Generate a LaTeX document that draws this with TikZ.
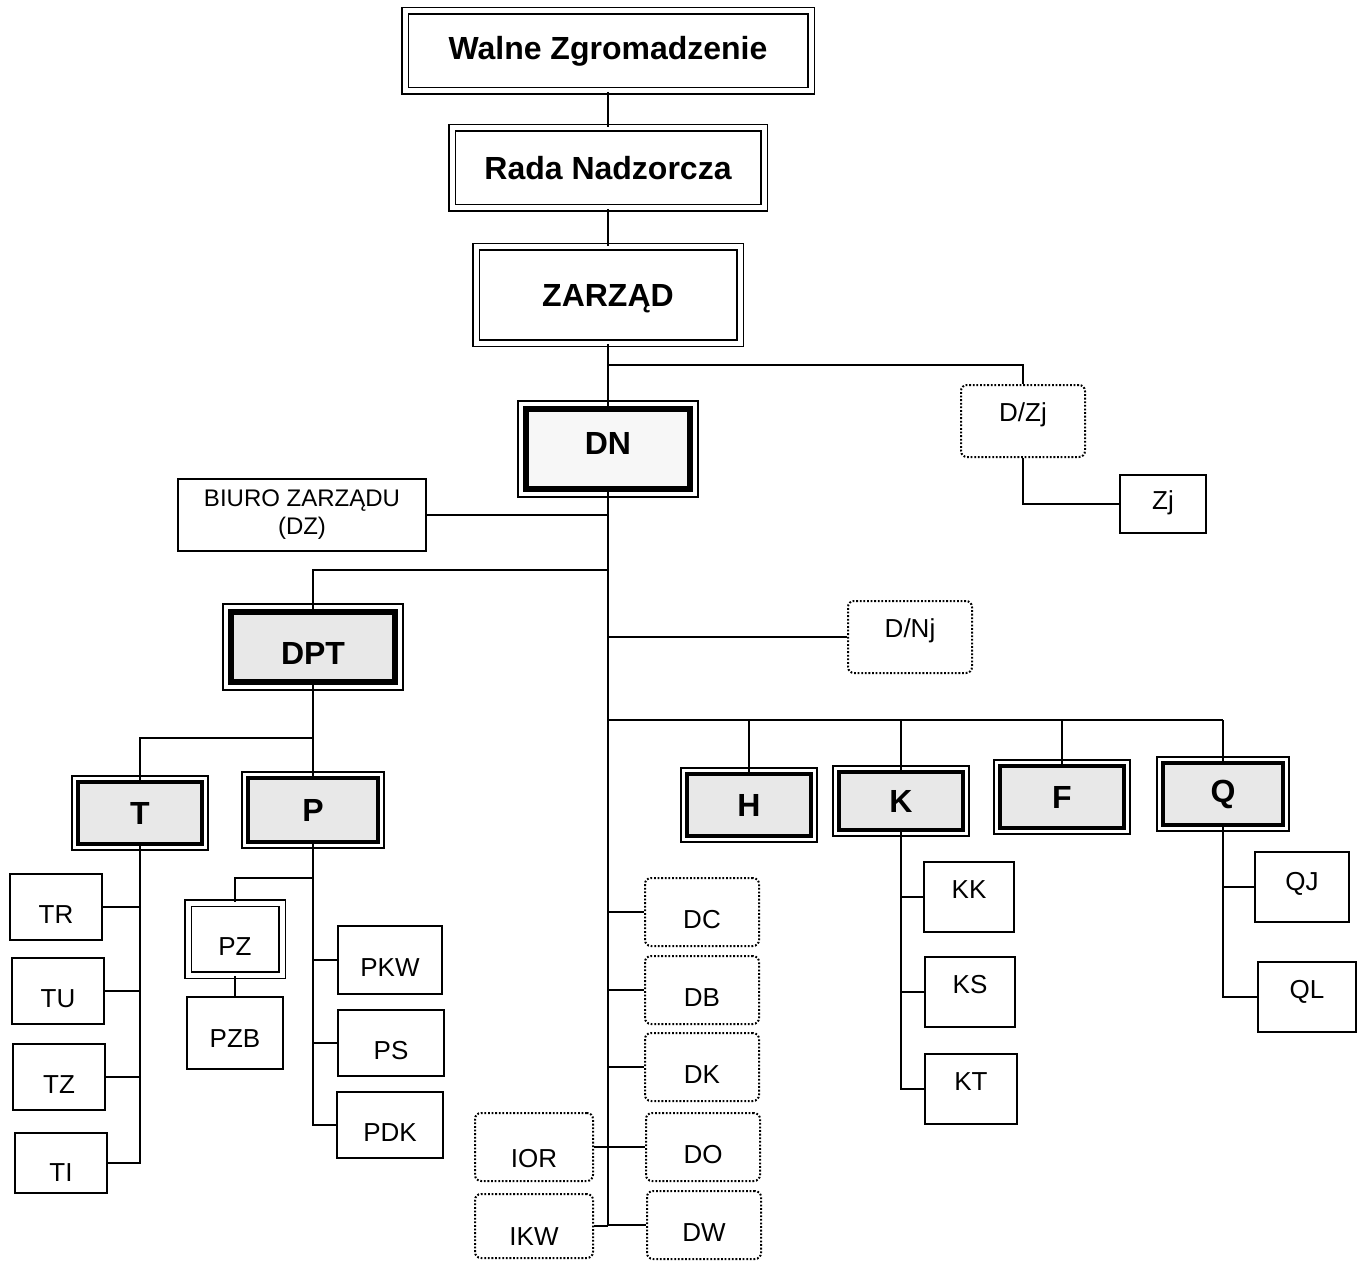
\documentclass[tikz,border=0pt]{standalone}
\usepackage{fontspec}
\setmainfont{Liberation Sans}
\usepackage{tikz}

\tikzset{
  board/.style={draw, double, double distance=2.5pt, line width=0.9pt, inner sep=0pt,
    font=\fontsize{16}{19}\bfseries\selectfont},
  director/.style={draw, line width=2.8pt, inner sep=0pt, fill=gray!18,
    font=\fontsize{16}{19}\bfseries\selectfont},
  division/.style={draw, line width=1.8pt, inner sep=0pt, fill=gray!18,
    minimum width=62pt, minimum height=31pt, font=\fontsize{16}{19}\bfseries\selectfont},
  unit/.style={draw, line width=1pt, inner sep=0pt, font=\fontsize{13}{15}\selectfont},
  dotunit/.style={draw, line width=1pt, dash pattern=on 0.9pt off 0.9pt, rounded corners=3pt,
    inner sep=0pt, minimum width=57pt, minimum height=34pt, font=\fontsize{13}{15}\selectfont},
  lowtext/.style={text height=16pt, text depth=0pt},
  hightext/.style={text height=9.5pt, text depth=8pt},
  frame/.style={line width=0.8pt}
}

\begin{document}
\begin{tikzpicture}[x=0.5pt, y=-0.5pt, line width=1pt]
\useasboundingbox (0,0) rectangle (1362,1263);

% top of the company
\node[board, minimum width=203pt, minimum height=40pt] (WZ) at (608,51) {Walne Zgromadzenie};
\node[board, minimum width=156pt, minimum height=40pt] (RN) at (608,168) {Rada Nadzorcza};
\node[board, text depth=0pt, minimum width=132pt, minimum height=48pt] (ZA) at (608,295) {ZARZĄD};
\node[director, fill=gray!6, text height=11.5pt, text depth=6pt,
  minimum width=82pt, minimum height=40pt] (DN) at (608,449) {DN};
\node[director, text height=17.5pt, text depth=0pt,
  minimum width=82pt, minimum height=35pt] (DPT) at (313,647) {DPT};

\node[dotunit, text height=9.5pt, text depth=9pt, minimum width=62pt, minimum height=36pt] (DZj) at (1023,421) {D/Zj};
\node[unit, text height=9.5pt, text depth=4pt, minimum width=43pt, minimum height=29pt] (Zj) at (1163,504) {Zj};
\node[unit, align=center, minimum width=124pt, minimum height=36pt,
  font=\fontsize{12}{14}\selectfont] (DZ) at (302,515) {BIURO ZARZĄDU\\(DZ)};
\node[dotunit, text height=9.5pt, text depth=9pt, minimum width=62pt, minimum height=36pt] (DNj) at (910,637) {D/Nj};

% divisions
\node[division] (T) at (140,813) {T};
\node[division, minimum width=65pt, minimum height=32pt] (P) at (313,810) {P};
\node[division] (H) at (749,805) {H};
\node[division, minimum height=29pt] (K) at (901,801) {K};
\node[division] (F) at (1062,797) {F};
\node[division, minimum width=60pt] (Q) at (1223,794) {Q};

% units
\node[unit, lowtext, minimum width=46pt, minimum height=33pt] (TR) at (56,907) {TR};
\node[unit, lowtext, minimum width=46pt, minimum height=33pt] (TU) at (58,991) {TU};
\node[unit, lowtext, minimum width=46pt, minimum height=33pt] (TZ) at (59,1077) {TZ};
\node[unit, lowtext, text height=18pt, minimum width=46pt, minimum height=30pt] (TI) at (61,1163) {TI};

\node[board, lowtext, font=\fontsize{13}{15}\selectfont, minimum width=47pt, minimum height=36pt] (PZ) at (235,939) {PZ};
\node[unit, text height=14pt, text depth=0pt, minimum width=48pt, minimum height=36pt] (PZB) at (235,1033) {PZB};
\node[unit, lowtext, minimum width=52pt, minimum height=34pt] (PKW) at (390,960) {PKW};
\node[unit, lowtext, minimum width=53pt, minimum height=33pt] (PS) at (391,1043) {PS};
\node[unit, lowtext, minimum width=53pt, minimum height=33pt] (PDK) at (390,1125) {PDK};

\node[dotunit, lowtext] (DC) at (702,912) {DC};
\node[dotunit, lowtext] (DB) at (702,990) {DB};
\node[dotunit, lowtext] (DK) at (702,1067) {DK};
\node[dotunit, lowtext] (DO) at (703,1147) {DO};
\node[dotunit, lowtext] (DW) at (704,1225) {DW};
\node[dotunit, lowtext, text height=20pt, minimum width=59pt] (IOR) at (534,1147) {IOR};
\node[dotunit, lowtext, text height=19pt, minimum width=59pt, minimum height=32pt] (IKW) at (534,1226) {IKW};

\node[unit, hightext, minimum width=45pt, minimum height=35pt] (KK) at (969,897) {KK};
\node[unit, hightext, minimum width=45pt, minimum height=35pt] (KS) at (970,992) {KS};
\node[unit, hightext, minimum width=46pt, minimum height=35pt] (KT) at (971,1089) {KT};
\node[unit, hightext, text depth=6.5pt, minimum width=47pt, minimum height=35pt] (QJ) at (1302,887) {QJ};
\node[unit, hightext, minimum width=49pt, minimum height=35pt] (QL) at (1307,997) {QL};

% outer frames
\foreach \n in {DN,DPT}
  \draw[frame] ([shift={(-2.6pt,2.6pt)}]\n.north west) rectangle ([shift={(2.6pt,-2.6pt)}]\n.south east);
\foreach \n in {T,P,H,K,F,Q}
  \draw[frame] ([shift={(-2.1pt,2.1pt)}]\n.north west) rectangle ([shift={(2.1pt,-2.1pt)}]\n.south east);

% junctions
\coordinate (jZ) at (608,365);
\coordinate (jDPT) at (608,570);
\coordinate (jHQ) at (608,720);
\coordinate (jTP) at (313,738);
\coordinate (jPZ) at (313,878);

% lines
\draw (WZ) -- (RN);
\draw (RN) -- (ZA);
\draw (ZA) -- (DN);
\draw (jZ) -| (DZj);
\draw (DZj) |- (Zj);
\draw (DN) |- (DW);
\draw (DZ) -- (DZ -| DN);
\draw (jDPT) -| (DPT);
\draw (DNj) -- (DNj -| DN);
\draw (jHQ) -- (jHQ -| Q);
\foreach \n in {H,K,F,Q}
  \draw (jHQ -| \n) -- (\n);
\draw (DPT) -- (P);
\draw (jTP) -| (T);
\draw (T) |- (TI);
\foreach \n in {TR,TU,TZ}
  \draw (\n) -- (\n -| T);
\draw (P) |- (PDK);
\foreach \n in {PKW,PS}
  \draw (\n) -- (\n -| P);
\draw (jPZ) -| (PZ);
\draw (PZ) -- (PZB);
\foreach \n in {DC,DB,DK,DO,IOR,IKW}
  \draw (\n) -- (\n -| DN);
\draw (K) |- (KT);
\foreach \n in {KK,KS}
  \draw (\n) -- (\n -| K);
\draw (Q) |- (QL);
\draw (QJ) -- (QJ -| Q);
\end{tikzpicture}
\end{document}
